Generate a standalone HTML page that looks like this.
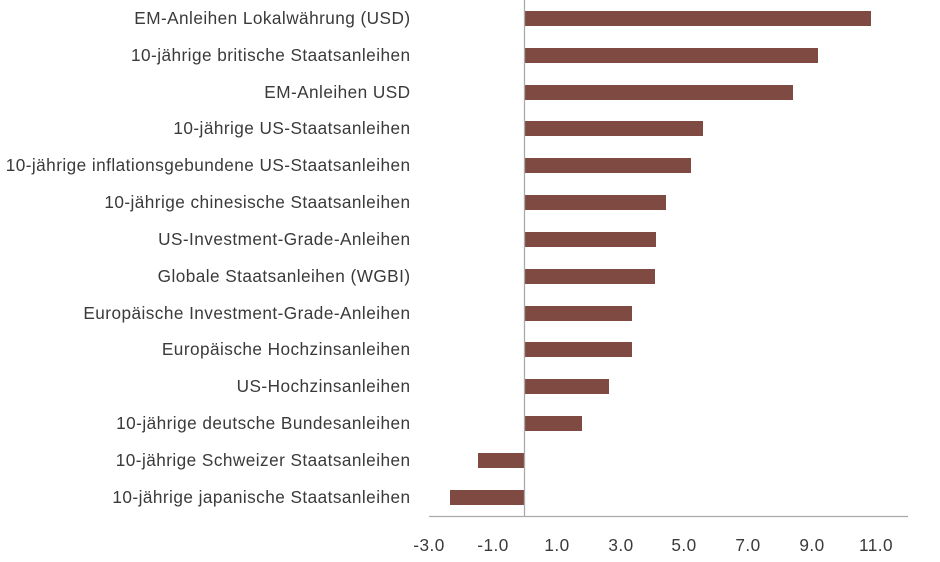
<!DOCTYPE html>
<html><head><meta charset="utf-8"><style>
html,body{margin:0;padding:0;background:#fff;}
svg text{font-family:"Liberation Sans","DejaVu Sans",sans-serif;fill:#3a3a3a;letter-spacing:0.45px;}
</style></head><body>
<svg width="940" height="557" xmlns="http://www.w3.org/2000/svg">
<g font-size="17.2" text-anchor="end">
<text x="410.5" y="24">EM-Anleihen Lokalwährung (USD)</text>
<text x="410.5" y="61">10-jährige britische Staatsanleihen</text>
<text x="410.5" y="98">EM-Anleihen USD</text>
<text x="410.5" y="134">10-jährige US-Staatsanleihen</text>
<text x="410.5" y="171">10-jährige inflationsgebundene US-Staatsanleihen</text>
<text x="410.5" y="208">10-jährige chinesische Staatsanleihen</text>
<text x="410.5" y="245">US-Investment-Grade-Anleihen</text>
<text x="410.5" y="282">Globale Staatsanleihen (WGBI)</text>
<text x="410.5" y="319">Europäische Investment-Grade-Anleihen</text>
<text x="410.5" y="355">Europäische Hochzinsanleihen</text>
<text x="410.5" y="392">US-Hochzinsanleihen</text>
<text x="410.5" y="429">10-jährige deutsche Bundesanleihen</text>
<text x="410.5" y="466">10-jährige Schweizer Staatsanleihen</text>
<text x="410.5" y="503">10-jährige japanische Staatsanleihen</text>
</g>
<g fill="#7f4a42">
<rect x="525" y="11" width="346" height="15"/>
<rect x="525" y="48" width="293" height="15"/>
<rect x="525" y="85" width="268" height="15"/>
<rect x="525" y="121" width="178" height="15"/>
<rect x="525" y="158" width="166" height="15"/>
<rect x="525" y="195" width="141" height="15"/>
<rect x="525" y="232" width="131" height="15"/>
<rect x="525" y="269" width="130" height="15"/>
<rect x="525" y="306" width="107" height="15"/>
<rect x="525" y="342" width="107" height="15"/>
<rect x="525" y="379" width="84" height="15"/>
<rect x="525" y="416" width="57" height="15"/>
<rect x="478" y="453" width="46" height="15"/>
<rect x="450" y="490" width="74" height="15"/>
</g>
<line x1="524.5" y1="0" x2="524.5" y2="517" stroke="#aaa" stroke-width="1.3"/>
<line x1="429" y1="516.5" x2="908" y2="516.5" stroke="#aaa" stroke-width="1.3"/>
<g font-size="17.2" text-anchor="middle">
<text x="429" y="551">-3.0</text>
<text x="493" y="551">-1.0</text>
<text x="557" y="551">1.0</text>
<text x="621" y="551">3.0</text>
<text x="684" y="551">5.0</text>
<text x="748" y="551">7.0</text>
<text x="812" y="551">9.0</text>
<text x="876" y="551">11.0</text>
</g>
</svg>
</body></html>
